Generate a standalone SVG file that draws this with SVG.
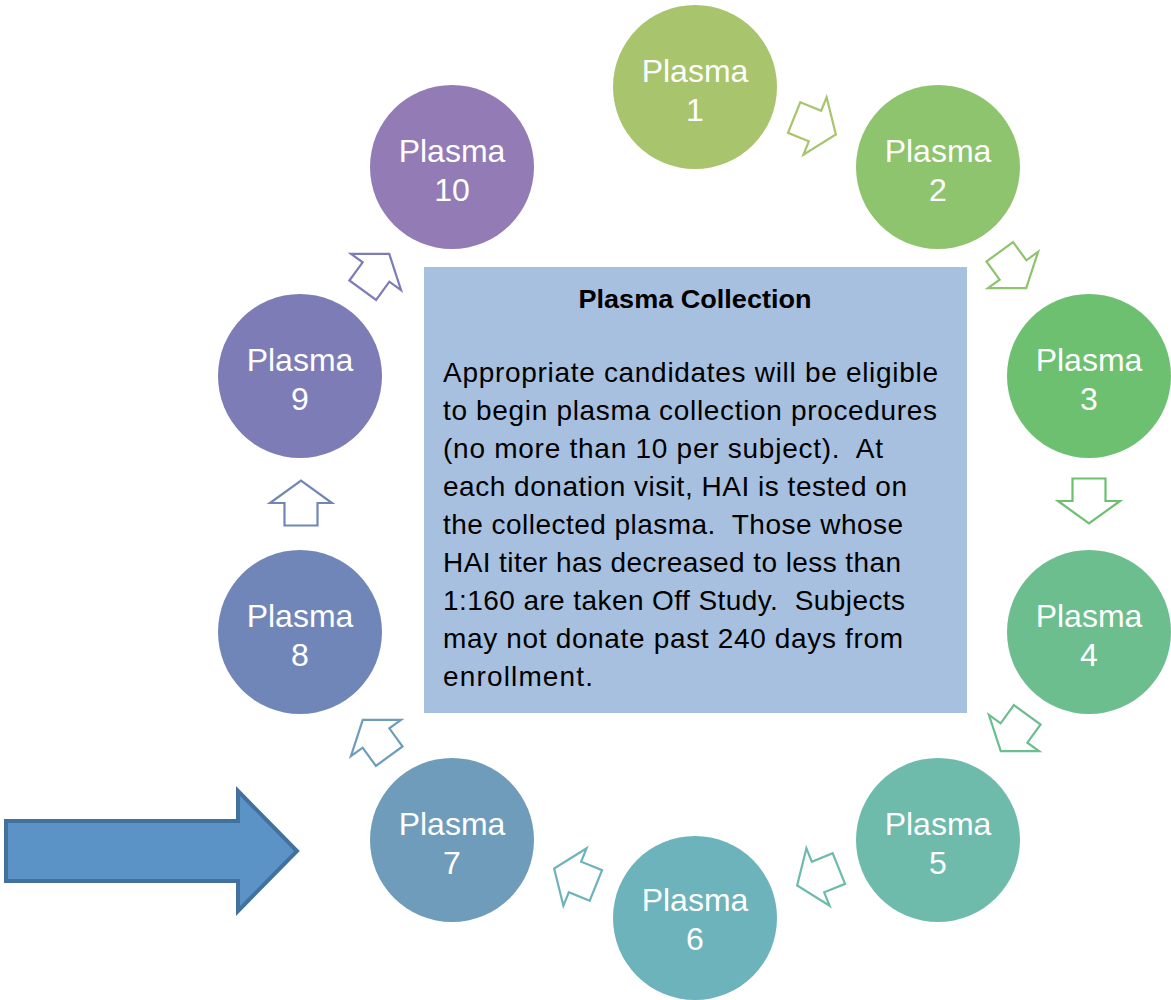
<svg xmlns="http://www.w3.org/2000/svg" width="1171" height="1000" viewBox="0 0 1171 1000">
<defs>
<style>
.node text{font-family:"Liberation Sans",Arial,sans-serif;font-size:32px;fill:#ffffff;text-anchor:middle}
.arr{fill:#ffffff;stroke-width:2.2;stroke-linejoin:miter}
.body{font-family:"Liberation Sans",Arial,sans-serif;font-size:28px;fill:#000000;white-space:pre}
.title{font-family:"Liberation Sans",Arial,sans-serif;font-size:26px;font-weight:bold;fill:#000000;text-anchor:middle}
</style>
<path id="blk" d="M-22.5,-16.5 L0,-16.5 L0,-31 L22.5,0 L0,31 L0,16.5 L-22.5,16.5 Z"/>
</defs>
<rect width="1171" height="1000" fill="#ffffff"/>

<g id="start-arrow">
<path d="M6,821 L238,821 L238,791 L297,851 L238,911 L238,881 L6,881 Z" fill="#5b93c7" stroke="#41719c" stroke-width="4" stroke-linejoin="miter"/>
</g>

<g id="info-box">
<rect x="424" y="267" width="543" height="446" fill="#a7c0df"/>
<text class="title" x="695" y="308" textLength="233" lengthAdjust="spacingAndGlyphs">Plasma Collection</text>
<text class="body" x="443" y="382" textLength="495" lengthAdjust="spacing">Appropriate candidates will be eligible</text>
<text class="body" x="443" y="420" textLength="494" lengthAdjust="spacing">to begin plasma collection procedures</text>
<text class="body" x="443" y="458" textLength="440" lengthAdjust="spacing">(no more than 10 per subject).  At</text>
<text class="body" x="443" y="496" textLength="464" lengthAdjust="spacing">each donation visit, HAI is tested on</text>
<text class="body" x="443" y="534" textLength="460" lengthAdjust="spacing">the collected plasma.  Those whose</text>
<text class="body" x="443" y="572" textLength="458" lengthAdjust="spacing">HAI titer has decreased to less than</text>
<text class="body" x="443" y="610" textLength="462" lengthAdjust="spacing">1:160 are taken Off Study.  Subjects</text>
<text class="body" x="443" y="648" textLength="460" lengthAdjust="spacing">may not donate past 240 days from</text>
<text class="body" x="443" y="686" textLength="150" lengthAdjust="spacing">enrollment.</text>
</g>

<g id="node1" class="node"><circle cx="695" cy="87" r="82" fill="#a8c46c"/><text x="695" y="82">Plasma</text><text x="695" y="121">1</text></g>
<g id="node2" class="node"><circle cx="938" cy="167" r="82" fill="#8ec46d"/><text x="938" y="162">Plasma</text><text x="938" y="201">2</text></g>
<g id="node3" class="node"><circle cx="1089" cy="376" r="82" fill="#6cc070"/><text x="1089" y="371">Plasma</text><text x="1089" y="410">3</text></g>
<g id="node4" class="node"><circle cx="1089" cy="632" r="82" fill="#6cbe8e"/><text x="1089" y="627">Plasma</text><text x="1089" y="666">4</text></g>
<g id="node5" class="node"><circle cx="938" cy="840" r="82" fill="#6ebbab"/><text x="938" y="835">Plasma</text><text x="938" y="874">5</text></g>
<g id="node6" class="node"><circle cx="695" cy="918" r="82" fill="#6db3bb"/><text x="695" y="911">Plasma</text><text x="695" y="950">6</text></g>
<g id="node7" class="node"><circle cx="452" cy="840" r="82" fill="#6e9cba"/><text x="452" y="835">Plasma</text><text x="452" y="874">7</text></g>
<g id="node8" class="node"><circle cx="300" cy="632" r="82" fill="#7186b8"/><text x="300" y="627">Plasma</text><text x="300" y="666">8</text></g>
<g id="node9" class="node"><circle cx="300" cy="376" r="82" fill="#7d7cb6"/><text x="300" y="371">Plasma</text><text x="300" y="410">9</text></g>
<g id="node10" class="node"><circle cx="452" cy="167" r="82" fill="#937bb5"/><text x="452" y="162">Plasma</text><text x="452" y="201">10</text></g>

<g id="connectors">
<use href="#blk" class="arr" stroke="#a8c46c" transform="translate(815,126) rotate(22)"/>
<use href="#blk" class="arr" stroke="#8ec46d" transform="translate(1013,270) rotate(54)"/>
<use href="#blk" class="arr" stroke="#6cc070" transform="translate(1089,501) rotate(90)"/>
<use href="#blk" class="arr" stroke="#6cbe8e" transform="translate(1014,733) rotate(126)"/>
<use href="#blk" class="arr" stroke="#6ebbab" transform="translate(818,877) rotate(158)"/>
<use href="#blk" class="arr" stroke="#6db3bb" transform="translate(575,877) rotate(202)"/>
<use href="#blk" class="arr" stroke="#6e9cba" transform="translate(376,738) rotate(234)"/>
<use href="#blk" class="arr" stroke="#7186b8" transform="translate(301,503) rotate(270)"/>
<use href="#blk" class="arr" stroke="#7d7cb6" transform="translate(376,272) rotate(306)"/>
</g>
</svg>
